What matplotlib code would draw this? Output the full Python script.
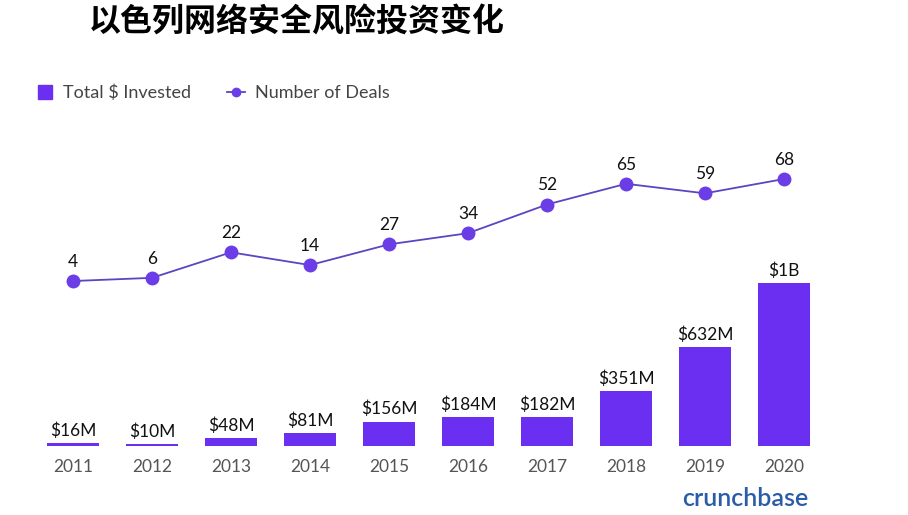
import matplotlib
matplotlib.use("Agg")
import matplotlib.pyplot as plt
from matplotlib.lines import Line2D

plt.rcParams['font.family'] = ['Lato', 'Noto Sans CJK SC', 'DejaVu Sans']

# data
years = ['2011', '2012', '2013', '2014', '2015', '2016', '2017', '2018', '2019', '2020']
invested = [16, 10, 48, 81, 156, 184, 182, 351, 632, 1040]   # $M (2020 shown as $1B)
invested_labels = ['$16M', '$10M', '$48M', '$81M', '$156M', '$184M', '$182M',
                   '$351M', '$632M', '$1B']
deals = [4, 6, 22, 14, 27, 34, 52, 65, 59, 68]

bar_color = '#6a2ff0'
line_color = '#5d44c0'
dot_color = '#6a3de6'

fig = plt.figure(figsize=(9.08, 5.15), dpi=100)
ax = fig.add_axes([0, 69 / 515, 1, 446 / 515])
x = list(range(len(years)))

ax.bar(x, invested, width=0.67, color=bar_color, zorder=2)
ax.set_xlim(-73 / 79, (908 - 73) / 79)
ax.set_ylim(0, 446 * 6.38)
for xi, v, lab in zip(x, invested, invested_labels):
    ax.annotate(lab, (xi, v), xytext=(0, 3), textcoords='offset points',
                ha='center', va='bottom', fontsize=12.5, color='#111111')

ax.set_xticks(x)
ax.set_xticklabels(years, fontsize=12.5, color='#555555')
ax.tick_params(axis='x', length=0, pad=9)
ax.set_yticks([])
for s in ax.spines.values():
    s.set_visible(False)
ax.patch.set_alpha(0)

ax2 = ax.twinx()
ax2.plot(x, deals, color=line_color, lw=1.3, marker='o', markersize=9,
         markerfacecolor=dot_color, markeredgecolor=dot_color, zorder=3)
ax2.set_ylim(-99.5, 180.3)
for xi, d in zip(x, deals):
    ax2.annotate(str(d), (xi, d), xytext=(0, 8), textcoords='offset points',
                 ha='center', va='bottom', fontsize=12.5, color='#111111')
ax2.set_yticks([])
for s in ax2.spines.values():
    s.set_visible(False)

# title
fig.text(297 / 908, 1 - 23 / 515, '以色列网络安全风险投资变化',
         family=['Noto Sans CJK SC', 'DejaVu Sans'], fontweight='heavy',
         fontsize=23, ha='center', va='center', color='#000000')

# legend
handles = [Line2D([], [], ls='none', marker='s', markersize=10,
                  markerfacecolor=bar_color, markeredgecolor=bar_color),
           Line2D([], [], color=line_color, lw=1.3, marker='o', markersize=6,
                  markerfacecolor=dot_color, markeredgecolor=dot_color)]
leg = fig.legend(handles, ['Total $ Invested', 'Number of Deals'],
                 loc='center left', bbox_to_anchor=(20 / 908, 1 - 93 / 515),
                 ncol=2, frameon=False, fontsize=13, handlelength=1.0,
                 handletextpad=0.5, columnspacing=2.0)
for t in leg.get_texts():
    t.set_color('#444444')

fig.text(745 / 908, 1 - 498 / 515, 'crunchbase', fontsize=18, fontweight='semibold',
         color='#2b5ca8', ha='center', va='center')

fig.savefig('out.png', dpi=100)
